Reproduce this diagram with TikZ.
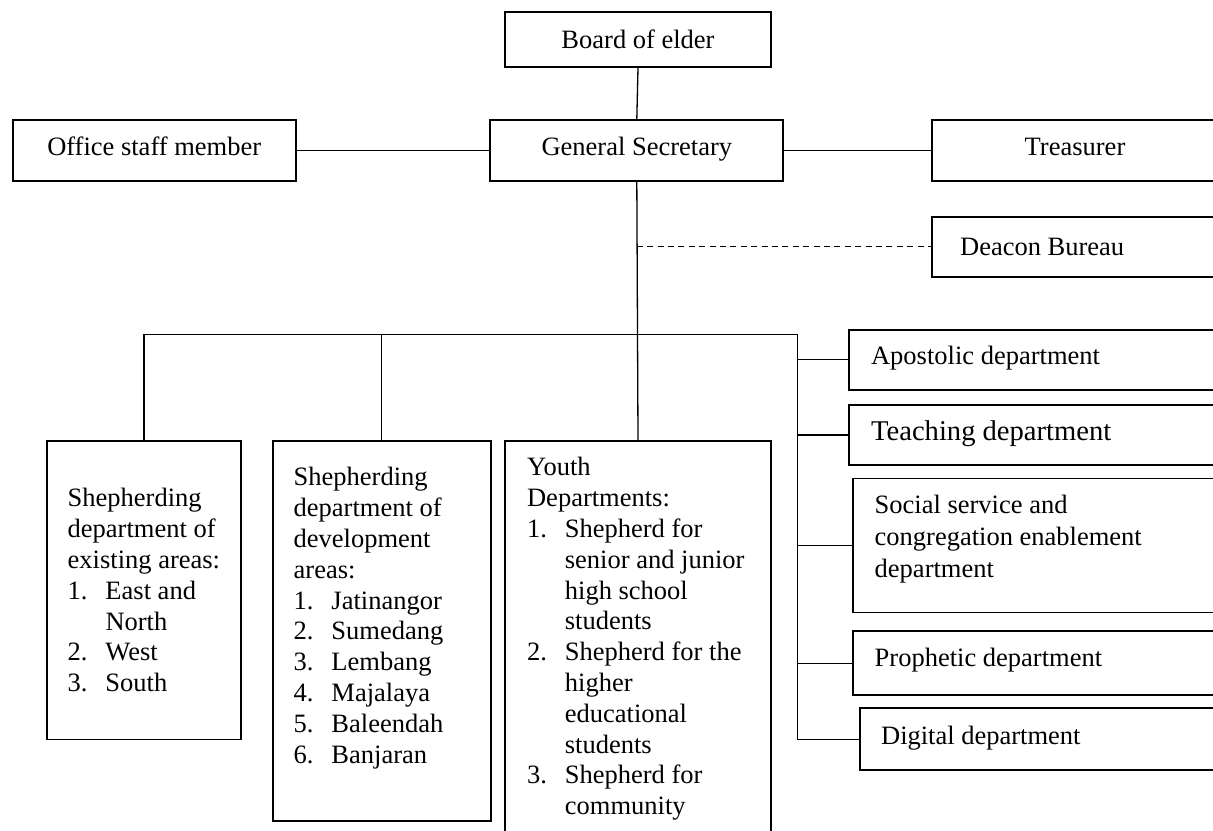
\documentclass[tikz,border=0pt]{standalone}
\usepackage{fontspec}
\setmainfont{Liberation Serif}
\usetikzlibrary{fit}
\newcommand{\itemnum}[1]{\makebox[18.9pt][l]{#1}}
\newcommand{\hangin}{\hspace*{18.9pt}}
\begin{document}
\begin{tikzpicture}[x=0.5pt,y=-0.5pt,
  box/.style={draw, line width=0.9pt, inner sep=0pt},
  conn/.style={line width=0.65pt},
  lbl/.style={inner sep=0pt, font=\fontsize{13.25}{15.4}\selectfont},
]
\useasboundingbox (0,0) rectangle (1213,830);
\clip (0,0) rectangle (1213,830);

% top level boxes
\node[box, fit={(505,12.3) (771,66.7)}] (board) {};
\node[box, fit={(12.7,120) (295.8,180.7)}] (office) {};
\node[box, fit={(490.3,120) (783.3,180.7)}] (gensec) {};
\node[box, fit={(932.3,120) (1240,180.7)}] (treasurer) {};
\node[box, fit={(932.3,216.7) (1240,276.7)}] (deacon) {};

\node[lbl, anchor=base] (tboard) at (638,48.3) {Board of elder};
\node[lbl, anchor=base] (toffice) at (154.2,155.7) {Office staff member};
\node[lbl, anchor=base] (tgensec) at (636.8,155.7) {General Secretary};
\node[lbl, anchor=base] (ttreasurer) at (1075,155.7) {Treasurer};
\node[lbl, anchor=base west] (tdeacon) at (959.7,255) {Deacon Bureau};

% lower boxes
\node[box, fit={(46.7,440.8) (241.2,739.5)}] (shep1) {};
\node[box, fit={(272.7,440.8) (490.8,820.7)}] (shep2) {};
\node[box, fit={(505,441.3) (771,860)}] (youth) {};

\node[box, fit={(849,329.7) (1240,389.9)}] (apost) {};
\node[box, fit={(849,404.8) (1240,465)}] (teach) {};
\node[box, fit={(852.7,478.5) (1240,612.5)}] (social) {};
\node[box, fit={(852.7,631.3) (1240,695)}] (prophet) {};
\node[box, fit={(860,708.3) (1240,770)}] (digital) {};

\node[lbl, anchor=base west] (tshep1) at (67.3,506.9) {\begin{tabular}[t]{@{}l@{}}
Shepherding\\
department of\\
existing areas:\\
\itemnum{1.}East and\\
\hangin North\\
\itemnum{2.}West\\
\itemnum{3.}South
\end{tabular}};

\node[lbl, anchor=base west] (tshep2) at (293.3,485.9) {\begin{tabular}[t]{@{}l@{}}
Shepherding\\
department of\\
development\\
areas:\\
\itemnum{1.}Jatinangor\\
\itemnum{2.}Sumedang\\
\itemnum{3.}Lembang\\
\itemnum{4.}Majalaya\\
\itemnum{5.}Baleendah\\
\itemnum{6.}Banjaran
\end{tabular}};

\node[lbl, anchor=base west] (tyouth) at (526.7,475.8) {\begin{tabular}[t]{@{}l@{}}
Youth\\
Departments:\\
\itemnum{1.}Shepherd for\\
\hangin senior and junior\\
\hangin high school\\
\hangin students\\
\itemnum{2.}Shepherd for the\\
\hangin higher\\
\hangin educational\\
\hangin students\\
\itemnum{3.}Shepherd for\\
\hangin community
\end{tabular}};

\node[lbl, anchor=base west] (tapost) at (870.7,364.2) {Apostolic department};
\node[lbl, anchor=base west, font=\fontsize{14.3}{16}\selectfont] (tteach) at (870.7,440.3) {Teaching department};
\node[lbl, anchor=base west, font=\fontsize{13.25}{16}\selectfont] (tsocial) at (874.3,513.7) {\begin{tabular}[t]{@{}l@{}}
Social service and\\
congregation enablement\\
department
\end{tabular}};
\node[lbl, anchor=base west] (tprophet) at (874.3,666.8) {Prophetic department};
\node[lbl, anchor=base west] (tdigital) at (880.7,744.6) {Digital department};

% connectors
\coordinate (busR) at (797.3,334.6);
\draw[conn] (board.south) -- (gensec.north);
\draw[conn] (office.east) -- (gensec.west);
\draw[conn] (gensec.east) -- (treasurer.west);
\draw[conn] (gensec.south) -- (youth.north);
\draw[conn, dash pattern=on 3pt off 2.2pt] (gensec.south |- deacon.west) -- (deacon.west);
\draw[conn] (shep1.north) -- (shep1.north |- busR) -- (busR) -- (busR |- digital.west) -- (digital.west);
\draw[conn] (shep2.north) -- (shep2.north |- busR);
\draw[conn] (busR |- apost.west) -- (apost.west);
\draw[conn] (busR |- teach.west) -- (teach.west);
\draw[conn] (busR |- social.west) -- (social.west);
\draw[conn] (busR |- prophet.west) -- (prophet.west);
\end{tikzpicture}
\end{document}
